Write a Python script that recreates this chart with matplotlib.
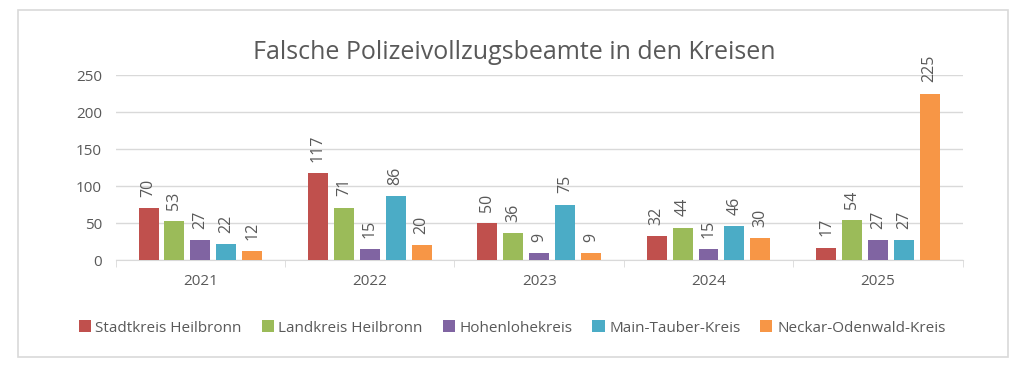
import numpy as np
import matplotlib.pyplot as plt
from matplotlib.patches import Rectangle

plt.rcParams['font.family'] = ['Open Sans', 'DejaVu Sans']

# Data
years = ['2021', '2022', '2023', '2024', '2025']
kreise = ['Stadtkreis Heilbronn', 'Landkreis Heilbronn', 'Hohenlohekreis',
          'Main-Tauber-Kreis', 'Neckar-Odenwald-Kreis']
stadtkreis_hn = [70, 117, 50, 32, 17]
landkreis_hn = [53, 71, 36, 44, 54]
hohenlohe = [27, 15, 9, 15, 27]
main_tauber = [22, 86, 75, 46, 27]
neckar_odenwald = [12, 20, 9, 30, 225]
colors = ['#C0504D', '#9BBB59', '#8064A2', '#4BACC6', '#F79646']

series = [stadtkreis_hn, landkreis_hn, hohenlohe, main_tauber, neckar_odenwald]
text_gray = '#595959'
grid_gray = '#d9d9d9'

fig = plt.figure(figsize=(10.24, 3.77), dpi=100)
fig.patches.append(Rectangle((0.0176, 0.053), 0.967, 0.920, transform=fig.transFigure,
                             fill=False, edgecolor=grid_gray, linewidth=1.2))

ax = fig.add_axes([0.113, 0.31, 0.827, 0.491])
x = np.arange(len(years))
width = 0.118
step = 0.153
for i, (vals, name, c) in enumerate(zip(series, kreise, colors)):
    pos = x + (i - 2) * step
    bars = ax.bar(pos, vals, width, color=c, label=name, zorder=3)
    # value labels, rotated, a bit above each bar
    for b, v in zip(bars, vals):
        ax.annotate(str(v), (b.get_x() + b.get_width() / 2, v), xytext=(0, 8),
                    textcoords='offset points', rotation=90, ha='center', va='bottom',
                    fontsize=11.5, color=text_gray, annotation_clip=False)

ax.set_xlim(-0.5, len(years) - 0.5)
ax.set_ylim(0, 250)
ax.set_yticks(range(0, 251, 50))
ax.yaxis.grid(True, color=grid_gray, linewidth=1, zorder=0)
ax.set_xticks(x)
ax.set_xticklabels(years)
ax.set_xticks(np.arange(-0.5, len(years), 1), minor=True)
ax.tick_params(axis='x', which='major', length=0, pad=10, labelsize=11, labelcolor=text_gray)
ax.tick_params(axis='x', which='minor', length=5, color=grid_gray)
ax.tick_params(axis='y', length=0, pad=10, labelsize=11, labelcolor=text_gray)
for s in ['top', 'right', 'left']:
    ax.spines[s].set_visible(False)
ax.spines['bottom'].set_color(grid_gray)

fig.text(0.502, 0.86, 'Falsche Polizeivollzugsbeamte in den Kreisen',
         ha='center', va='center', fontsize=18, color=text_gray)

handles, labels = ax.get_legend_handles_labels()
fig.legend(handles, labels, loc='center', bbox_to_anchor=(0.5, 0.13), ncol=5,
           frameon=False, fontsize=11, handlelength=0.8, handleheight=0.8,
           handletextpad=0.3, columnspacing=1.3, labelcolor=text_gray)

fig.savefig('out.png', dpi=100)
